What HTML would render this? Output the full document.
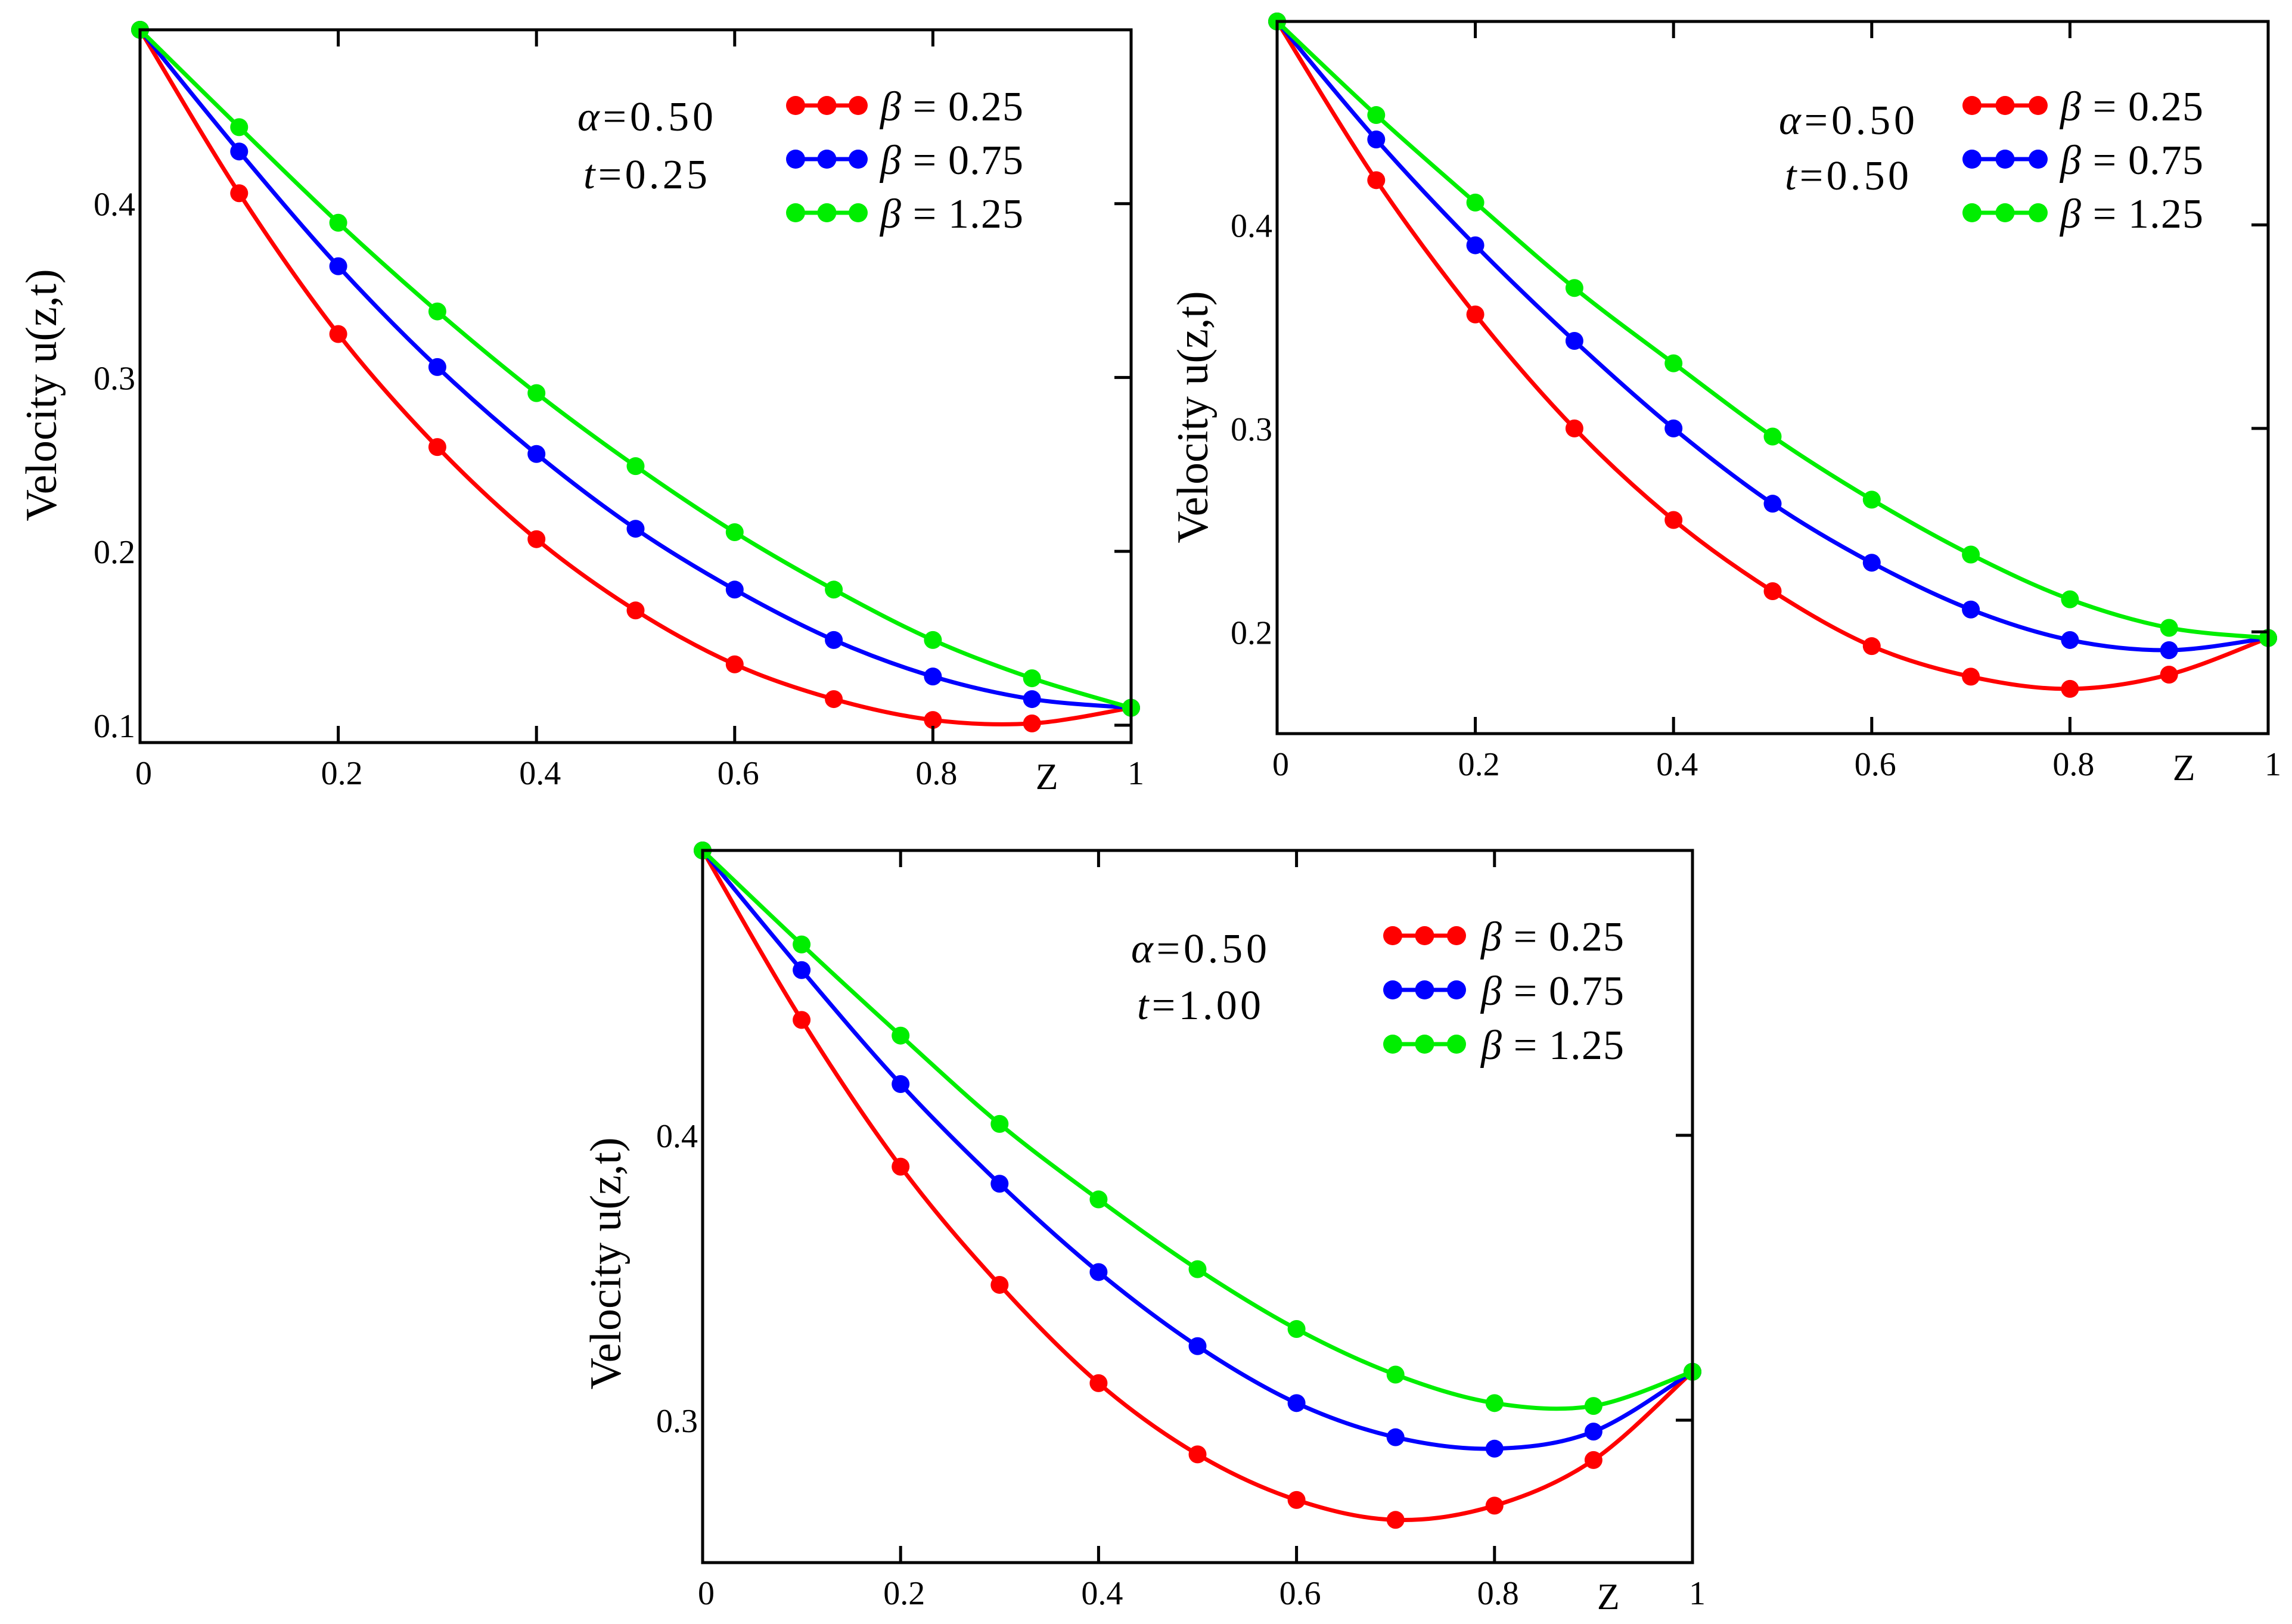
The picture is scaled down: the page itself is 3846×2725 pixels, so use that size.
<!DOCTYPE html>
<html><head><meta charset="utf-8">
<style>
html,body{margin:0;padding:0;background:#fff;}
svg{display:block;}
text{font-family:"Liberation Serif",serif;}
</style></head>
<body>
<svg id="chart" width="3846" height="2725" viewBox="0 0 3846 2725" xmlns="http://www.w3.org/2000/svg"></svg>
<script>
const zValues = [0,0.1,0.2,0.3,0.4,0.5,0.6,0.7,0.8,0.9,1.0];
const seriesNames = ["β = 0.25","β = 0.75","β = 1.25"];
const seriesColors = ["#ff0000","#0000ff","#00ee00"];
// Panel t=0.25
const p1Red   = [0.5,0.406,0.325,0.260,0.207,0.166,0.135,0.115,0.103,0.101,0.110];
const p1Blue  = [0.5,0.430,0.364,0.306,0.256,0.213,0.178,0.149,0.128,0.115,0.110];
const p1Green = [0.5,0.444,0.389,0.338,0.291,0.249,0.211,0.178,0.149,0.127,0.110];
const p1YTicks = [0.1,0.2,0.3,0.4];
// Panel t=0.50
const p2Red   = [0.5,0.422,0.356,0.300,0.255,0.220,0.193,0.178,0.172,0.179,0.197];
const p2Blue  = [0.5,0.442,0.390,0.343,0.300,0.263,0.234,0.211,0.196,0.191,0.197];
const p2Green = [0.5,0.454,0.411,0.369,0.332,0.296,0.265,0.238,0.216,0.202,0.197];
const p2YTicks = [0.2,0.3,0.4];
// Panel t=1.00
const p3Red   = [0.5,0.4405,0.389,0.3475,0.313,0.288,0.272,0.265,0.270,0.286,0.317];
const p3Blue  = [0.5,0.458,0.418,0.383,0.352,0.326,0.306,0.294,0.290,0.296,0.317];
const p3Green = [0.5,0.467,0.435,0.404,0.3775,0.353,0.332,0.316,0.306,0.305,0.317];
const p3YTicks = [0.3,0.4];
const xTicks = [0,0.2,0.4,0.6,0.8,1];
const xTickLabels = ["0","0.2","0.4","0.6","0.8","1"];

const NS="http://www.w3.org/2000/svg";
const svg=document.getElementById('chart');
function mk(tag,attrs,parent){const e=document.createElementNS(NS,tag);for(const k in attrs)e.setAttribute(k,attrs[k]);(parent||svg).appendChild(e);return e;}

const panels=[
 {id:'t025',L:235,R:1898,T:50,B:1246,ymin:0.09,ymax:0.5,series:[p1Red,p1Blue,p1Green],yt:p1YTicks,t:"0.25",
  ann:[1083,194,291],leg:[1335,1440,[177,267,357],1477],title:[68,663]},
 {id:'t050',L:2143,R:3806,T:36,B:1231,ymin:0.15,ymax:0.5,series:[p2Red,p2Blue,p2Green],yt:p2YTicks,t:"0.50",
  ann:[3099,200,293],leg:[3309,3420,[177,267,357],3457],title:[2000,700]},
 {id:'t100',L:1179,R:2840,T:1427,B:2622,ymin:0.25,ymax:0.5,series:[p3Red,p3Blue,p3Green],yt:p3YTicks,t:"1.00",
  ann:[2012,1590,1685],leg:[2337,2444,[1570,1661,1752],2485],title:[1015,2120]}
];

function smoothPath(pts){
  let d=`M${pts[0][0]},${pts[0][1]}`;
  for(let i=0;i<pts.length-1;i++){
    const p0=pts[Math.max(0,i-1)],p1=pts[i],p2=pts[i+1],p3=pts[Math.min(pts.length-1,i+2)];
    const c1=[p1[0]+(p2[0]-p0[0])/6,p1[1]+(p2[1]-p0[1])/6];
    const c2=[p2[0]-(p3[0]-p1[0])/6,p2[1]-(p3[1]-p1[1])/6];
    d+=` C${c1[0]},${c1[1]} ${c2[0]},${c2[1]} ${p2[0]},${p2[1]}`;
  }
  return d;
}

panels.forEach(p=>{
  const g=mk('g',{});
  
  
  const xs=v=>p.L+(p.R-p.L)*v;
  const ys=v=>p.B-(p.B-p.T)*(v-p.ymin)/(p.ymax-p.ymin);
  const clip=mk('clipPath',{id:'c'+p.id},g);
  mk('rect',{x:p.L,y:p.T-20,width:p.R-p.L+20,height:p.B-p.T+20},clip);
  p.series.forEach((s,si)=>{
    const pts=s.map((v,i)=>[xs(zValues[i]),ys(v)]);
    const path=mk('path',{d:smoothPath(pts),fill:'none',stroke:seriesColors[si],'stroke-width':7,'clip-path':`url(#c${p.id})`},g);
    
    
    pts.forEach((pt,i)=>{
      const c=mk('circle',{cx:pt[0],cy:pt[1],r:15,fill:seriesColors[si]},g);
      
      
    });
  });
  const fr=mk('rect',{x:p.L,y:p.T,width:p.R-p.L,height:p.B-p.T,fill:'none',stroke:'#000','stroke-width':5},g);
  
  
  xTicks.forEach((v,i)=>{
    const x=xs(v);
    if(i>0&&i<xTicks.length-1){
      mk('line',{x1:x,y1:p.B,x2:x,y2:p.B-28,stroke:'#000','stroke-width':5},g);
      mk('line',{x1:x,y1:p.T,x2:x,y2:p.T+28,stroke:'#000','stroke-width':5},g);
    }
    const t=mk('text',{x:x+(i==xTicks.length-1?8:6),y:p.B+70,'font-size':56,'text-anchor':'middle'},g);
    t.textContent=xTickLabels[i];
    
    
  });
  const zl=mk('text',{x:xs(0.915),y:p.B+78,'font-size':62,'text-anchor':'middle'},g);
  zl.textContent='Z';
  
  
  p.yt.forEach(v=>{
    const y=ys(v);
    mk('line',{x1:p.R,y1:y,x2:p.R-28,y2:y,stroke:'#000','stroke-width':5},g);
    const t=mk('text',{x:p.L-8,y:y+20,'font-size':56,'text-anchor':'end'},g);
    t.textContent=v.toFixed(1);
    
    
  });
  const yt=mk('text',{x:p.title[0],y:p.title[1],'font-size':74,'text-anchor':'middle',transform:`rotate(-90 ${p.title[0]} ${p.title[1]})`,dy:26},g);
  yt.textContent='Velocity u(z,t)';
  
  
  const a1=mk('text',{x:p.ann[0]-114,y:p.ann[1]+25,'font-size':70,textLength:228,lengthAdjust:'spacing'},g);
  a1.innerHTML='<tspan font-style="italic">α</tspan>=0.50';
  
  
  const a2=mk('text',{x:p.ann[0]-104,y:p.ann[2]+25,'font-size':70,textLength:208,lengthAdjust:'spacing'},g);
  a2.innerHTML='<tspan font-style="italic">t</tspan>='+p.t;
  
  
  seriesNames.forEach((n,si)=>{
    const y=p.leg[2][si];
    const lg=mk('g',{},g);
    
    
    mk('line',{x1:p.leg[0],y1:y,x2:p.leg[1],y2:y,stroke:seriesColors[si],'stroke-width':7},lg);
    [0,0.5,1].forEach(f=>mk('circle',{cx:p.leg[0]+(p.leg[1]-p.leg[0])*f,cy:y,r:16,fill:seriesColors[si]},lg));
    const t=mk('text',{x:p.leg[3],y:y+25,'font-size':70,textLength:240,lengthAdjust:'spacing'},lg);
    t.innerHTML='<tspan font-style="italic">β</tspan> = '+n.split('= ')[1];
  });
});
</script>
</body></html>
